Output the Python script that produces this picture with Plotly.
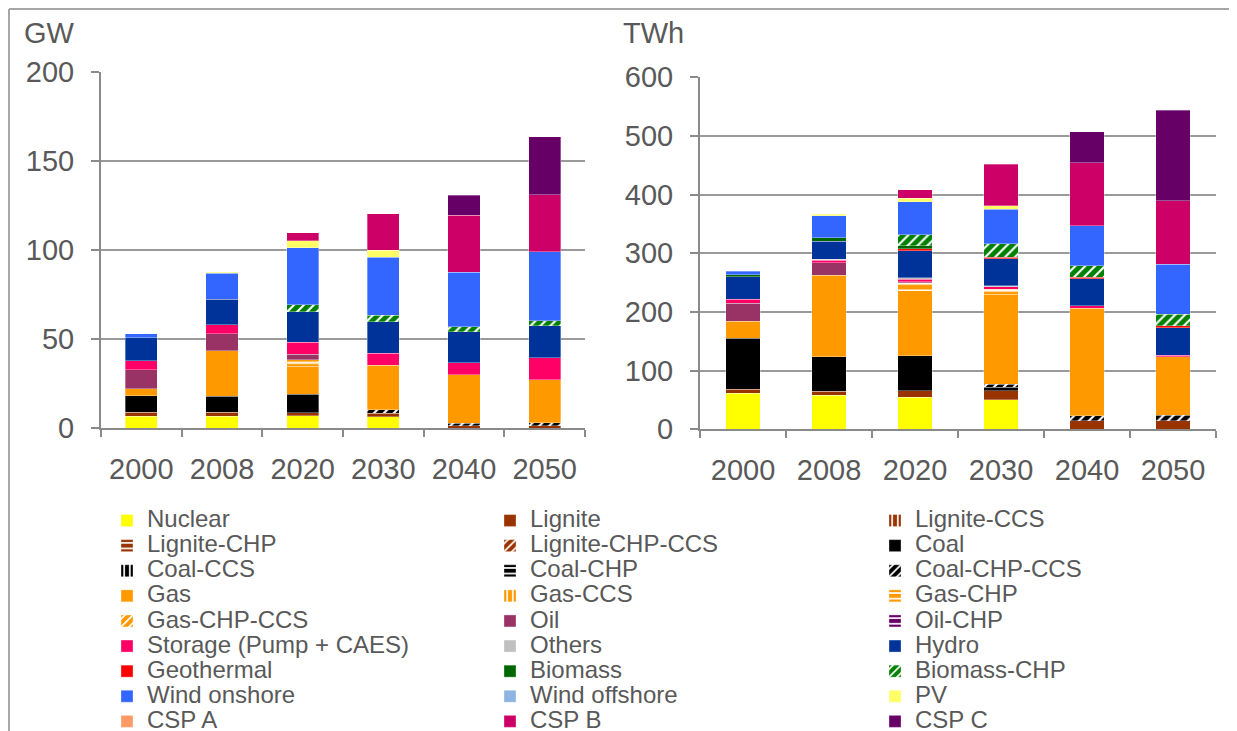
import plotly.graph_objects as go

# ---------------- data ----------------
years = ["2000", "2008", "2020", "2030", "2040", "2050"]

series_names = [
    "Nuclear", "Lignite", "Lignite-CCS",
    "Lignite-CHP", "Lignite-CHP-CCS", "Coal",
    "Coal-CCS", "Coal-CHP", "Coal-CHP-CCS",
    "Gas", "Gas-CCS", "Gas-CHP",
    "Gas-CHP-CCS", "Oil", "Oil-CHP",
    "Storage (Pump + CAES)", "Others", "Hydro",
    "Geothermal", "Biomass", "Biomass-CHP",
    "Wind onshore", "Wind offshore", "PV",
    "CSP A", "CSP B", "CSP C",
]

# Installed capacity (GW)
gw_nuclear = [6.9, 6.7, 7.1, 6.6, 0, 0]
gw_lignite = [2.1, 2.2, 1.5, 1.9, 1.5, 1.5]
gw_lignite_ccs = [0, 0, 0, 0, 0, 0]
gw_lignite_chp = [0, 0, 0, 0, 0, 0]
gw_lignite_chp_ccs = [0, 0, 0, 0, 0, 0]
gw_coal = [9.2, 9.0, 10.5, 0, 0, 0]
gw_coal_ccs = [0, 0, 0, 0, 0, 0]
gw_coal_chp = [0, 0, 0, 0, 0, 0]
gw_coal_chp_ccs = [0, 0, 0, 1.9, 1.3, 1.5]
gw_gas = [3.9, 25.7, 15.9, 24.9, 27.2, 24.2]
gw_gas_ccs = [0, 0, 0, 0, 0, 0]
gw_gas_chp = [0, 0, 3.4, 0, 0, 0]
gw_gas_chp_ccs = [0, 0, 0, 0, 0, 0]
gw_oil = [10.7, 9.6, 3.2, 0, 0, 0]
gw_oil_chp = [0, 0, 0, 0, 0, 0]
gw_storage = [5.1, 5.1, 6.7, 6.9, 6.9, 12.5]
gw_others = [0, 0, 0, 0, 0, 0]
gw_hydro = [13.1, 14.3, 17.2, 17.8, 17.4, 17.8]
gw_geothermal = [0, 0, 0, 0, 0, 0]
gw_biomass = [0, 0, 0, 0, 0, 0]
gw_biomass_chp = [0, 0, 3.9, 3.4, 2.8, 3.0]
gw_wind_onshore = [2.2, 14.6, 32.0, 32.6, 30.5, 38.8]
gw_wind_offshore = [0, 0, 0, 0, 0, 0]
gw_pv = [0, 0.5, 3.9, 3.9, 0, 0]
gw_csp_a = [0, 0, 0, 0, 0, 0]
gw_csp_b = [0, 0, 4.5, 20.6, 32.2, 31.8]
gw_csp_c = [0, 0, 0, 0, 11.2, 32.8]

# Generation (TWh)
twh_nuclear = [61.4, 58.0, 54.5, 50.0, 0, 0]
twh_lignite = [6.8, 6.8, 10.8, 15.3, 14.2, 14.2]
twh_lignite_ccs = [0, 0, 0, 0, 0, 0]
twh_lignite_chp = [0, 0, 0, 0, 0, 0]
twh_lignite_chp_ccs = [0, 0, 0, 0, 0, 0]
twh_coal = [86.9, 59.1, 59.7, 6.3, 0, 0]
twh_coal_ccs = [0, 0, 0, 0, 0, 0]
twh_coal_chp = [0, 0, 0, 0, 0, 0]
twh_coal_chp_ccs = [0, 0, 0, 5.1, 8.5, 9.7]
twh_gas = [29.0, 138.4, 111.4, 153.4, 183.5, 100.0]
twh_gas_ccs = [0, 0, 0, 0, 0, 0]
twh_gas_chp = [0, 0, 13.0, 8.5, 0, 0]
twh_gas_chp_ccs = [0, 0, 0, 0, 0, 0]
twh_oil = [30.7, 21.5, 2.0, 0, 0, 0]
twh_oil_chp = [0, 0, 0, 0, 0, 0]
twh_storage = [6.8, 4.5, 4.5, 4.5, 4.5, 2.3]
twh_others = [0, 1.3, 2.4, 1.7, 0, 0]
twh_hydro = [38.6, 30.7, 46.0, 45.4, 45.5, 47.2]
twh_geothermal = [0, 0, 2.9, 2.8, 2.8, 3.4]
twh_biomass = [3.4, 6.1, 5.6, 0, 0, 0]
twh_biomass_chp = [0, 0, 18.7, 22.7, 19.9, 19.3]
twh_wind_onshore = [5.7, 37.5, 56.2, 59.1, 67.6, 85.2]
twh_wind_offshore = [0, 0, 0, 0, 0, 0]
twh_pv = [0, 2.4, 5.5, 6.3, 0, 0]
twh_csp_a = [0, 0, 0, 0, 0, 0]
twh_csp_b = [0, 0, 15.0, 70.4, 107.4, 108.0]
twh_csp_c = [0, 0, 0, 0, 53.4, 154.5]

gw_ticks = [0, 50, 100, 150, 200]
twh_ticks = [0, 100, 200, 300, 400, 500, 600]

# ---------------- styles ----------------
gw_series = [
    gw_nuclear, gw_lignite, gw_lignite_ccs, gw_lignite_chp, gw_lignite_chp_ccs,
    gw_coal, gw_coal_ccs, gw_coal_chp, gw_coal_chp_ccs,
    gw_gas, gw_gas_ccs, gw_gas_chp, gw_gas_chp_ccs, gw_oil, gw_oil_chp,
    gw_storage, gw_others, gw_hydro, gw_geothermal, gw_biomass, gw_biomass_chp,
    gw_wind_onshore, gw_wind_offshore, gw_pv, gw_csp_a, gw_csp_b, gw_csp_c,
]
twh_series = [
    twh_nuclear, twh_lignite, twh_lignite_ccs, twh_lignite_chp, twh_lignite_chp_ccs,
    twh_coal, twh_coal_ccs, twh_coal_chp, twh_coal_chp_ccs,
    twh_gas, twh_gas_ccs, twh_gas_chp, twh_gas_chp_ccs, twh_oil, twh_oil_chp,
    twh_storage, twh_others, twh_hydro, twh_geothermal, twh_biomass, twh_biomass_chp,
    twh_wind_onshore, twh_wind_offshore, twh_pv, twh_csp_a, twh_csp_b, twh_csp_c,
]

BROWN, BLACK, ORANGE = "#993300", "#000000", "#FF9900"
series_colors = [
    "#FFFF00", BROWN, BROWN, BROWN, BROWN,
    BLACK, BLACK, BLACK, BLACK,
    ORANGE, ORANGE, ORANGE, ORANGE, "#993366", "#660066",
    "#FF0066", "#C0C0C0", "#003399", "#FF0000", "#006600", "#008000",
    "#3366FF", "#8EB4E3", "#FFFF66", "#FF9966", "#CC0066", "#660066",
]
series_patterns = [
    "", "", "|", "-", "/",
    "", "|", "-", "/",
    "", "|", "-", "/", "", "-",
    "", "", "", "", "", "/",
    "", "", "", "", "", "",
]

FONT = "Liberation Sans, Arial, sans-serif"
TXT = "#595959"
GRID = "#9a9a9a"
AXIS = "#8a8a8a"
TICK_SIZE = 29


def clean(vals):
    return [v if v else None for v in vals]


def marker_for(i):
    m = dict(color=series_colors[i], line=dict(width=0.6, color="rgba(255,255,255,0.55)"))
    if series_patterns[i]:
        m["pattern"] = dict(shape=series_patterns[i], fgcolor="white",
                            bgcolor=series_colors[i], size=7, solidity=0.3,
                            fillmode="replace")
    return m


fig = go.Figure()
legend_ids = ["legend", "legend2", "legend3"]
for i, name in enumerate(series_names):
    label = '<span style="font-size:24px">' + name + "</span>"
    fig.add_trace(go.Bar(
        x=years, y=clean(gw_series[i]), name=label, legendgroup=name,
        marker=marker_for(i), xaxis="x", yaxis="y",
        legend=legend_ids[i % 3], showlegend=True,
    ))
for i, name in enumerate(series_names):
    label = '<span style="font-size:24px">' + name + "</span>"
    fig.add_trace(go.Bar(
        x=years, y=clean(twh_series[i]), name=label, legendgroup=name,
        marker=marker_for(i), xaxis="x2", yaxis="y2",
        legend=legend_ids[i % 3], showlegend=False,
    ))

# the page body adds an 8px margin; the figure fills the rest of the window
OFF = 8
W, H = 1237 - OFF, 731 - OFF


def px_x(p):
    return (p - OFF) / W


def px_y(p):
    return 1 - (p - OFF) / H


xaxis_common = dict(
    type="category", showline=True, linecolor=AXIS, linewidth=2,
    ticks="outside", tickson="boundaries", ticklen=7, tickcolor=AXIS, tickwidth=2,
    showgrid=False, tickfont=dict(family=FONT, size=TICK_SIZE, color=TXT),
    ticklabelstandoff=14, zeroline=False,
)
yaxis_common = dict(
    showline=True, linecolor=AXIS, linewidth=2,
    ticks="outside", ticklen=8, tickcolor=AXIS, tickwidth=2,
    showgrid=True, gridcolor=GRID, gridwidth=1.5, zeroline=False,
    tickfont=dict(family=FONT, size=TICK_SIZE, color=TXT), ticklabelstandoff=11,
)

legend_common = dict(
    orientation="v", xanchor="left", yanchor="top", traceorder="normal",
    font=dict(family=FONT, size=17, color=TXT), bgcolor="rgba(0,0,0,0)",
    itemwidth=30, tracegroupgap=0, itemclick=False, itemdoubleclick=False,
)
legend_top = px_y(503)

fig.update_layout(
    width=W, height=H,
    margin=dict(l=0, r=0, t=0, b=0, autoexpand=False),
    paper_bgcolor="white", plot_bgcolor="white",
    barmode="stack", bargap=0.6,
    font=dict(family=FONT, color=TXT),
    xaxis=dict(xaxis_common, domain=[px_x(101), px_x(585)], anchor="y"),
    yaxis=dict(yaxis_common, domain=[px_y(428.3), px_y(72.3)], anchor="x",
               range=[0, 200], tickvals=gw_ticks),
    xaxis2=dict(xaxis_common, domain=[px_x(700), px_x(1216)], anchor="y2"),
    yaxis2=dict(yaxis_common, domain=[px_y(429.3), px_y(77.1)], anchor="x2",
                range=[0, 600], tickvals=twh_ticks),
    legend=dict(legend_common, x=px_x(107), y=legend_top),
    legend2=dict(legend_common, x=px_x(490), y=legend_top),
    legend3=dict(legend_common, x=px_x(875), y=legend_top),
    annotations=[
        dict(text="GW", x=px_x(49), y=px_y(33), xref="paper", yref="paper",
             xanchor="center", yanchor="middle", showarrow=False,
             font=dict(family=FONT, size=TICK_SIZE, color=TXT)),
        dict(text="TWh", x=px_x(653), y=px_y(33), xref="paper", yref="paper",
             xanchor="center", yanchor="middle", showarrow=False,
             font=dict(family=FONT, size=TICK_SIZE, color=TXT)),
    ],
    shapes=[
        dict(type="line", xref="paper", yref="paper", x0=px_x(9), x1=1,
             y0=px_y(9), y1=px_y(9), line=dict(color="#a6a6a6", width=2)),
        dict(type="line", xref="paper", yref="paper", x0=px_x(9), x1=px_x(9),
             y0=px_y(9), y1=0, line=dict(color="#a6a6a6", width=2)),
    ],
    showlegend=True,
)

fig.write_html("out.html")
